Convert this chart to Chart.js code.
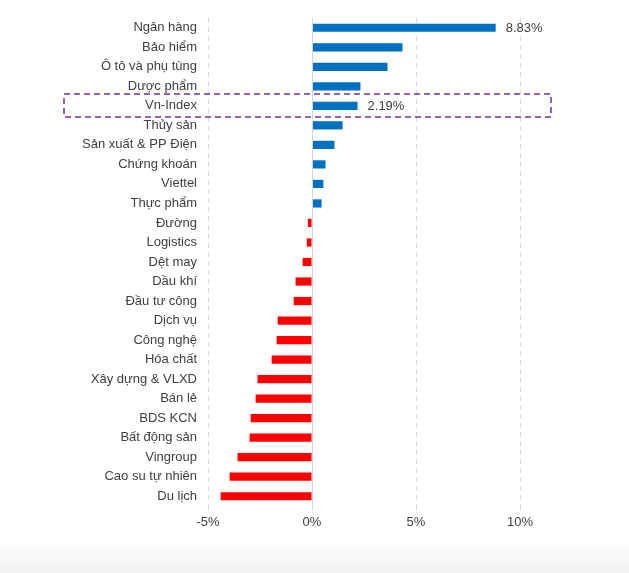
<!DOCTYPE html>
<html>
<head>
<meta charset="utf-8">
<script src="https://cdn.jsdelivr.net/npm/chart.js@4"></script>
<style>
  html, body { margin: 0; padding: 0; background: #fff; }
  #wrap { position: relative; width: 629px; height: 573px; }
  #band { position: absolute; left: 0; right: 0; top: 540px; bottom: 0; background: linear-gradient(#ffffff, #f1f1f1); }
  canvas { position: absolute; left: 0; top: 0; }
</style>
</head>
<body>
<div id="wrap">
  <div id="band"></div>
  <canvas id="chart" width="629" height="573"></canvas>
</div>
<script>
const categories = ['Ngân hàng', 'Bảo hiểm', 'Ô tô và phụ tùng', 'Dược phẩm', 'Vn-Index', 'Thủy sản',
  'Sản xuất & PP Điện', 'Chứng khoán', 'Viettel', 'Thực phẩm', 'Đường', 'Logistics', 'Dệt may',
  'Dầu khí', 'Đầu tư công', 'Dịch vụ', 'Công nghệ', 'Hóa chất', 'Xây dựng & VLXD', 'Bán lẻ',
  'BDS KCN', 'Bất động sản', 'Vingroup', 'Cao su tự nhiên', 'Du lịch'];
const values = [8.83, 4.35, 3.63, 2.33, 2.19, 1.47, 1.08, 0.65, 0.55, 0.46, -0.2, -0.25, -0.45,
  -0.79, -0.88, -1.65, -1.7, -1.94, -2.62, -2.71, -2.95, -3.0, -3.58, -3.96, -4.39];
const labelled = ['Ngân hàng', 'Vn-Index'];
const highlight = 'Vn-Index';
const xTicks = [-5, 0, 5, 10];

const textColor = '#404040';
Chart.defaults.font.family = '"Liberation Sans", Arial, sans-serif';
Chart.defaults.font.size = 13;
Chart.defaults.color = textColor;

// zero line, value labels, dashed box round Vn-Index
const extras = {
  id: 'extras',
  afterDatasetsDraw(chart) {
    const { ctx, chartArea, scales: { x, y } } = chart;
    ctx.save();
    const x0 = Math.round(x.getPixelForValue(0)) + 0.5;
    ctx.strokeStyle = '#d4d4d4';
    ctx.lineWidth = 1;
    ctx.beginPath();
    ctx.moveTo(x0, chartArea.top);
    ctx.lineTo(x0, chartArea.bottom);
    ctx.stroke();

    ctx.fillStyle = textColor;
    ctx.textBaseline = 'middle';
    ctx.textAlign = 'left';
    const meta = chart.getDatasetMeta(0);
    labelled.forEach(name => {
      const i = categories.indexOf(name);
      const bar = meta.data[i];
      ctx.fillText(values[i].toFixed(2) + '%', bar.x + 10, bar.y + 1);
    });

    const yc = Math.round(y.getPixelForValue(categories.indexOf(highlight)));
    ctx.strokeStyle = '#7030A0';
    ctx.lineWidth = 1.5;
    ctx.setLineDash([6, 4]);
    ctx.strokeRect(Math.round(chartArea.left) - 144, yc - 12, Math.round(chartArea.right - chartArea.left) + 175, 23);
    ctx.restore();
  }
};

new Chart(document.getElementById('chart'), {
  type: 'bar',
  data: {
    labels: categories,
    datasets: [{
      data: values,
      backgroundColor: values.map(v => v >= 0 ? '#0070C0' : '#FF0000'),
      barPercentage: 0.42,
      categoryPercentage: 1
    }]
  },
  options: {
    indexAxis: 'y',
    responsive: false,
    animation: false,
    devicePixelRatio: 1,
    layout: { padding: { top: 18, right: 109, bottom: 37, left: 0 } },
    plugins: { legend: { display: false }, tooltip: { enabled: false } },
    scales: {
      x: {
        min: -5,
        max: 10,
        afterBuildTicks: s => { s.ticks = xTicks.map(v => ({ value: v })); },
        afterFit: s => { s.height = 30; },
        ticks: { callback: v => v + '%', padding: 5, color: textColor },
        grid: {
          color: c => c.tick && c.tick.value === 0 ? 'rgba(0,0,0,0)' : '#d9d9d9',
          tickColor: '#d9d9d9',
          tickLength: 4
        },
        border: { display: false, dash: [5, 4] }
      },
      y: {
        afterFit: s => { s.width = 208; },
        ticks: { padding: 3, color: textColor },
        grid: { display: false },
        border: { display: false }
      }
    }
  },
  plugins: [extras]
});
</script>
</body>
</html>
